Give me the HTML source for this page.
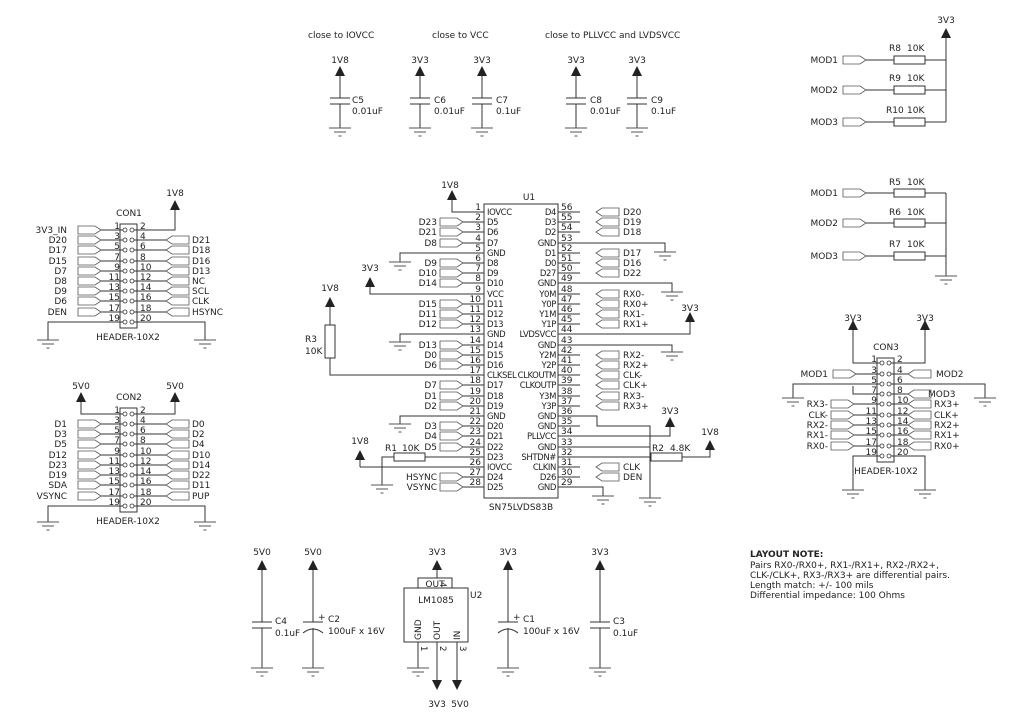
<!DOCTYPE html>
<html><head><meta charset="utf-8"><style>
html,body{margin:0;padding:0;background:#fff;}
svg{display:block;}
text{font-family:"DejaVu Sans","Liberation Sans",sans-serif;font-size:9px;fill:#222;}
.s{font-size:8.5px;}
.u text{font-size:8.5px;letter-spacing:-0.4px;}
.r{text-anchor:end;}
.m{text-anchor:middle;}
</style></head><body>
<svg width="1024" height="722" viewBox="0 0 1024 722" xmlns="http://www.w3.org/2000/svg">
<defs>
<g id="g"><path d="M-11 0H11M-6 4H6M-1.5 8H1.5" stroke="#555" stroke-width="1" fill="none"/></g>
<g id="a"><path d="M-5 10L0 0L5 10Z" fill="#222"/></g>
<g id="ad"><path d="M-5 -10L0 0L5 -10Z" fill="#222"/></g>
<g id="pr"><path d="M0 -4H17L23 0L17 4H0Z" fill="#fff" stroke="#555" stroke-width="0.8"/></g>
<g id="pl"><path d="M23 -4H6L0 0L6 4H23Z" fill="#fff" stroke="#555" stroke-width="0.8"/></g>
</defs>
<g stroke="#333" stroke-width="1" fill="none">
<path d="M340 76V98M330 98H350M330 104H350M340 104V128"/>
<path d="M420 76V98M410 98H430M410 104H430M420 104V128"/>
<path d="M482 76V98M472 98H492M472 104H492M482 104V128"/>
<path d="M576 76V98M566 98H586M566 104H586M576 104V128"/>
<path d="M637 76V98M627 98H647M627 104H647M637 104V128"/>
<path d="M866 60H894M925 60H946M866 90H894M925 90H946M866 122H894M925 122H946M946 38V122"/>
<rect x="894" y="56" width="31" height="8"/><rect x="894" y="86" width="31" height="8"/><rect x="894" y="118" width="31" height="8"/>
<path d="M866 193H894M925 193H946M866 223H894M925 223H946M866 256H894M925 256H946M946 193V276"/>
<rect x="894" y="189" width="31" height="8"/><rect x="894" y="219" width="31" height="8"/><rect x="894" y="252" width="31" height="8"/>
<rect x="484" y="204" width="74" height="294"/>
<path d="M462 212H484M462 222H484M462 232H484M462 243H484M462 253H484M462 263H484M462 273H484M462 283H484M462 294H484M462 304H484M462 314H484M462 324H484M462 334H484M462 345H484M462 355H484M462 365H484M462 375H484M462 385H484M462 396H484M462 406H484M462 416H484M462 426H484M462 436H484M462 447H484M462 457H484M462 467H484M462 477H484M462 487H484"/>
<path d="M558 212H580M558 222H580M558 232H580M558 243H580M558 253H580M558 263H580M558 273H580M558 283H580M558 294H580M558 304H580M558 314H580M558 324H580M558 334H580M558 345H580M558 355H580M558 365H580M558 375H580M558 385H580M558 396H580M558 406H580M558 416H580M558 426H580M558 436H580M558 447H580M558 457H580M558 467H580M558 477H580M558 487H580"/>
<path d="M452 197V212H462"/>
<path d="M462 253H400V262M462 334H400V342M462 416H400V424"/>
<path d="M462 294H370V286"/>
<path d="M330 307V325M330 358V375H462"/>
<rect x="325" y="325" width="10" height="33"/>
<path d="M580 243H665V252M580 283H672V292M580 345H672V352"/>
<path d="M580 334H690V322"/>
<path d="M580 416H597V426H650V498M580 436H670V426M580 447H650M580 457H651M682 457H710V450M580 487H603V496"/>
<rect x="651" y="453" width="31" height="8"/>
<path d="M462 457H425M394 457H382V485M360 467H462M360 467V460"/>
<rect x="394" y="453" width="31" height="8"/>
<rect x="120" y="224" width="17" height="104"/>
<path d="M100 230H127M100 240H127M100 250H127M100 261H127M100 271H127M100 281H127M100 291H127M100 301H127M100 312H127"/>
<path d="M130 230H175V210M130 240H168M130 250H168M130 261H168M130 271H168M130 281H168M130 291H168M130 301H168M130 312H168"/>
<path d="M127 322H48V340M130 322H205V340"/>
<rect x="120" y="408" width="17" height="104"/>
<path d="M127 414H81V402M130 414H175V402"/>
<path d="M100 424H127M100 434H127M100 444H127M100 455H127M100 465H127M100 475H127M100 485H127M100 496H127"/>
<path d="M130 424H168M130 434H168M130 444H168M130 455H168M130 465H168M130 475H168M130 485H168M130 496H168"/>
<path d="M127 506H48V522M130 506H205V522"/>
<rect x="877" y="358" width="17" height="104"/>
<path d="M884 363H853V330M888 363H925V330"/>
<path d="M853 374H884M888 374H910"/>
<path d="M884 384H793V398M888 384H985V398M884 394H853V386"/>
<path d="M888 394H910"/>
<path d="M853 404H884M853 415H884M853 425H884M853 435H884M853 446H884"/>
<path d="M888 404H910M888 415H910M888 425H910M888 435H910M888 446H910"/>
<path d="M884 456H853V490M888 456H925V490"/>
<path d="M262 570V622M252 622H272M252 628H272M262 628V668"/>
<path d="M313 570V622M303 622H323M303 633Q313 625 323 633M313 628V668"/>
<path d="M508 570V622M498 622H518M498 633Q508 625 518 633M508 628V668"/>
<path d="M600 570V622M590 622H610M590 628H610M600 628V668"/>
<rect x="404" y="588" width="64" height="54"/>
<rect x="418" y="578" width="34" height="10"/>
<path d="M437 570V578M418 642V668M437 642V680M457 642V680"/>
</g>
<use href="#a" x="340" y="66"/><use href="#a" x="420" y="66"/><use href="#a" x="482" y="66"/><use href="#a" x="576" y="66"/><use href="#a" x="637" y="66"/>
<use href="#a" x="946" y="28"/><use href="#a" x="452" y="190"/><use href="#a" x="370" y="277"/><use href="#a" x="330" y="297"/>
<use href="#a" x="690" y="312"/><use href="#a" x="670" y="417"/><use href="#a" x="710" y="440"/><use href="#a" x="360" y="450"/>
<use href="#a" x="175" y="200"/><use href="#a" x="81" y="392"/><use href="#a" x="175" y="392"/>
<use href="#a" x="853" y="320"/><use href="#a" x="925" y="320"/>
<use href="#a" x="262" y="560"/><use href="#a" x="313" y="560"/><use href="#a" x="437" y="560"/><use href="#a" x="508" y="560"/><use href="#a" x="600" y="560"/>
<use href="#ad" x="437" y="690"/><use href="#ad" x="457" y="690"/>
<use href="#g" x="340" y="128"/><use href="#g" x="420" y="128"/><use href="#g" x="482" y="128"/><use href="#g" x="576" y="128"/><use href="#g" x="637" y="128"/>
<use href="#g" x="946" y="276"/><use href="#g" x="400" y="262"/><use href="#g" x="400" y="342"/><use href="#g" x="400" y="424"/>
<use href="#g" x="665" y="252"/><use href="#g" x="672" y="292"/><use href="#g" x="672" y="352"/><use href="#g" x="650" y="498"/><use href="#g" x="603" y="496"/><use href="#g" x="382" y="485"/>
<use href="#g" x="48" y="340"/><use href="#g" x="205" y="340"/><use href="#g" x="48" y="522"/><use href="#g" x="205" y="522"/>
<use href="#g" x="793" y="398"/><use href="#g" x="985" y="398"/><use href="#g" x="853" y="490"/><use href="#g" x="925" y="490"/>
<use href="#g" x="262" y="668"/><use href="#g" x="313" y="668"/><use href="#g" x="418" y="668"/><use href="#g" x="508" y="668"/><use href="#g" x="600" y="668"/>
<use href="#pr" x="843" y="60"/><use href="#pr" x="843" y="90"/><use href="#pr" x="843" y="122"/>
<use href="#pr" x="843" y="193"/><use href="#pr" x="843" y="223"/><use href="#pr" x="843" y="256"/>
<g>
<use href="#pr" x="440" y="222"/><use href="#pr" x="440" y="232"/><use href="#pr" x="440" y="243"/>
<use href="#pr" x="440" y="263"/><use href="#pr" x="440" y="273"/><use href="#pr" x="440" y="283"/>
<use href="#pr" x="440" y="304"/><use href="#pr" x="440" y="314"/><use href="#pr" x="440" y="324"/>
<use href="#pr" x="440" y="345"/><use href="#pr" x="440" y="355"/><use href="#pr" x="440" y="365"/>
<use href="#pr" x="440" y="385"/><use href="#pr" x="440" y="396"/><use href="#pr" x="440" y="406"/>
<use href="#pr" x="440" y="426"/><use href="#pr" x="440" y="436"/><use href="#pr" x="440" y="447"/>
<use href="#pr" x="440" y="477"/><use href="#pr" x="440" y="487"/>
<use href="#pl" x="596" y="212"/><use href="#pl" x="596" y="222"/><use href="#pl" x="596" y="232"/>
<use href="#pl" x="596" y="253"/><use href="#pl" x="596" y="263"/><use href="#pl" x="596" y="273"/>
<use href="#pl" x="596" y="294"/><use href="#pl" x="596" y="304"/><use href="#pl" x="596" y="314"/><use href="#pl" x="596" y="324"/>
<use href="#pl" x="596" y="355"/><use href="#pl" x="596" y="365"/><use href="#pl" x="596" y="375"/><use href="#pl" x="596" y="385"/><use href="#pl" x="596" y="396"/><use href="#pl" x="596" y="406"/>
<use href="#pl" x="596" y="467"/><use href="#pl" x="596" y="477"/>
</g>
<g>
<use href="#pr" x="78" y="230"/><use href="#pr" x="78" y="240"/><use href="#pr" x="78" y="250"/><use href="#pr" x="78" y="261"/><use href="#pr" x="78" y="271"/><use href="#pr" x="78" y="281"/><use href="#pr" x="78" y="291"/><use href="#pr" x="78" y="301"/><use href="#pr" x="78" y="312"/>
<use href="#pl" x="166" y="240"/><use href="#pl" x="166" y="250"/><use href="#pl" x="166" y="261"/><use href="#pl" x="166" y="271"/><use href="#pl" x="166" y="281"/><use href="#pl" x="166" y="291"/><use href="#pl" x="166" y="301"/><use href="#pl" x="166" y="312"/>
<use href="#pr" x="78" y="424"/><use href="#pr" x="78" y="434"/><use href="#pr" x="78" y="444"/><use href="#pr" x="78" y="455"/><use href="#pr" x="78" y="465"/><use href="#pr" x="78" y="475"/><use href="#pr" x="78" y="485"/><use href="#pr" x="78" y="496"/>
<use href="#pl" x="166" y="424"/><use href="#pl" x="166" y="434"/><use href="#pl" x="166" y="444"/><use href="#pl" x="166" y="455"/><use href="#pl" x="166" y="465"/><use href="#pl" x="166" y="475"/><use href="#pl" x="166" y="485"/><use href="#pl" x="166" y="496"/>
<use href="#pr" x="833" y="374"/><use href="#pl" x="908" y="374"/><use href="#pl" x="908" y="394"/>
<use href="#pr" x="831" y="404"/><use href="#pr" x="831" y="415"/><use href="#pr" x="831" y="425"/><use href="#pr" x="831" y="435"/><use href="#pr" x="831" y="446"/>
<use href="#pl" x="908" y="404"/><use href="#pl" x="908" y="415"/><use href="#pl" x="908" y="425"/><use href="#pl" x="908" y="435"/><use href="#pl" x="908" y="446"/>
</g>
<g fill="#fff" stroke="#333" stroke-width="0.8">
<circle cx="125" cy="230" r="2"/><circle cx="132" cy="230" r="2"/><circle cx="125" cy="240" r="2"/><circle cx="132" cy="240" r="2"/><circle cx="125" cy="250" r="2"/><circle cx="132" cy="250" r="2"/><circle cx="125" cy="261" r="2"/><circle cx="132" cy="261" r="2"/><circle cx="125" cy="271" r="2"/><circle cx="132" cy="271" r="2"/><circle cx="125" cy="281" r="2"/><circle cx="132" cy="281" r="2"/><circle cx="125" cy="291" r="2"/><circle cx="132" cy="291" r="2"/><circle cx="125" cy="301" r="2"/><circle cx="132" cy="301" r="2"/><circle cx="125" cy="312" r="2"/><circle cx="132" cy="312" r="2"/><circle cx="125" cy="322" r="2"/><circle cx="132" cy="322" r="2"/>
<circle cx="125" cy="414" r="2"/><circle cx="132" cy="414" r="2"/><circle cx="125" cy="424" r="2"/><circle cx="132" cy="424" r="2"/><circle cx="125" cy="434" r="2"/><circle cx="132" cy="434" r="2"/><circle cx="125" cy="444" r="2"/><circle cx="132" cy="444" r="2"/><circle cx="125" cy="455" r="2"/><circle cx="132" cy="455" r="2"/><circle cx="125" cy="465" r="2"/><circle cx="132" cy="465" r="2"/><circle cx="125" cy="475" r="2"/><circle cx="132" cy="475" r="2"/><circle cx="125" cy="485" r="2"/><circle cx="132" cy="485" r="2"/><circle cx="125" cy="496" r="2"/><circle cx="132" cy="496" r="2"/><circle cx="125" cy="506" r="2"/><circle cx="132" cy="506" r="2"/>
<circle cx="882" cy="363" r="2"/><circle cx="889" cy="363" r="2"/><circle cx="882" cy="374" r="2"/><circle cx="889" cy="374" r="2"/><circle cx="882" cy="384" r="2"/><circle cx="889" cy="384" r="2"/><circle cx="882" cy="394" r="2"/><circle cx="889" cy="394" r="2"/><circle cx="882" cy="404" r="2"/><circle cx="889" cy="404" r="2"/><circle cx="882" cy="415" r="2"/><circle cx="889" cy="415" r="2"/><circle cx="882" cy="425" r="2"/><circle cx="889" cy="425" r="2"/><circle cx="882" cy="435" r="2"/><circle cx="889" cy="435" r="2"/><circle cx="882" cy="446" r="2"/><circle cx="889" cy="446" r="2"/><circle cx="882" cy="456" r="2"/><circle cx="889" cy="456" r="2"/>
</g>
<text x="308" y="38">close to IOVCC</text><text x="432" y="38">close to VCC</text><text x="545" y="38">close to PLLVCC and LVDSVCC</text>
<text class="m" x="340" y="63">1V8</text><text class="m" x="420" y="63">3V3</text><text class="m" x="482" y="63">3V3</text><text class="m" x="576" y="63">3V3</text><text class="m" x="637" y="63">3V3</text>
<text x="352" y="103">C5</text><text x="352" y="114">0.01uF</text>
<text x="434" y="103">C6</text><text x="434" y="114">0.01uF</text>
<text x="496" y="103">C7</text><text x="496" y="114">0.1uF</text>
<text x="590" y="103">C8</text><text x="590" y="114">0.01uF</text>
<text x="651" y="103">C9</text><text x="651" y="114">0.1uF</text>
<text class="m" x="946" y="23">3V3</text>
<text class="r" x="838" y="63">MOD1</text><text class="r" x="838" y="93">MOD2</text><text class="r" x="838" y="125">MOD3</text>
<text x="889" y="51">R8</text><text x="907" y="51">10K</text><text x="889" y="81">R9</text><text x="907" y="81">10K</text><text x="886" y="113">R10</text><text x="907" y="113">10K</text>
<text class="r" x="838" y="196">MOD1</text><text class="r" x="838" y="226">MOD2</text><text class="r" x="838" y="259">MOD3</text>
<text x="889" y="185">R5</text><text x="907" y="185">10K</text><text x="889" y="215">R6</text><text x="907" y="215">10K</text><text x="889" y="247">R7</text><text x="907" y="247">10K</text>
<text class="m" x="529" y="200">U1</text><text class="m" x="450" y="188">1V8</text>
<text class="m" x="521" y="510">SN75LVDS83B</text>
<g class="s">
<text class="r" x="481" y="210">1</text><text class="r" x="481" y="220">2</text><text class="r" x="481" y="230">3</text><text class="r" x="481" y="241">4</text><text class="r" x="481" y="251">5</text><text class="r" x="481" y="261">6</text><text class="r" x="481" y="271">7</text><text class="r" x="481" y="281">8</text><text class="r" x="481" y="292">9</text><text class="r" x="481" y="302">10</text><text class="r" x="481" y="312">11</text><text class="r" x="481" y="322">12</text><text class="r" x="481" y="332">13</text><text class="r" x="481" y="343">14</text><text class="r" x="481" y="353">15</text><text class="r" x="481" y="363">16</text><text class="r" x="481" y="373">17</text><text class="r" x="481" y="383">18</text><text class="r" x="481" y="394">19</text><text class="r" x="481" y="404">20</text><text class="r" x="481" y="414">21</text><text class="r" x="481" y="424">22</text><text class="r" x="481" y="434">23</text><text class="r" x="481" y="445">24</text><text class="r" x="481" y="455">25</text><text class="r" x="481" y="465">26</text><text class="r" x="481" y="475">27</text><text class="r" x="481" y="485">28</text>
<text x="561" y="210">56</text><text x="561" y="220">55</text><text x="561" y="230">54</text><text x="561" y="241">53</text><text x="561" y="251">52</text><text x="561" y="261">51</text><text x="561" y="271">50</text><text x="561" y="281">49</text><text x="561" y="292">48</text><text x="561" y="302">47</text><text x="561" y="312">46</text><text x="561" y="322">45</text><text x="561" y="332">44</text><text x="561" y="343">43</text><text x="561" y="353">42</text><text x="561" y="363">41</text><text x="561" y="373">40</text><text x="561" y="383">39</text><text x="561" y="394">38</text><text x="561" y="404">37</text><text x="561" y="414">36</text><text x="561" y="424">35</text><text x="561" y="434">34</text><text x="561" y="445">33</text><text x="561" y="455">32</text><text x="561" y="465">31</text><text x="561" y="475">30</text><text x="561" y="485">29</text>
</g>
<g class="u">
<text x="487" y="215">IOVCC</text><text x="487" y="225">D5</text><text x="487" y="235">D6</text><text x="487" y="246">D7</text><text x="487" y="256">GND</text><text x="487" y="266">D8</text><text x="487" y="276">D9</text><text x="487" y="286">D10</text><text x="487" y="297">VCC</text><text x="487" y="307">D11</text><text x="487" y="317">D12</text><text x="487" y="327">D13</text><text x="487" y="337">GND</text><text x="487" y="348">D14</text><text x="487" y="358">D15</text><text x="487" y="368">D16</text><text x="487" y="378">CLKSEL</text><text x="487" y="388">D17</text><text x="487" y="399">D18</text><text x="487" y="409">D19</text><text x="487" y="419">GND</text><text x="487" y="429">D20</text><text x="487" y="439">D21</text><text x="487" y="450">D22</text><text x="487" y="460">D23</text><text x="487" y="470">IOVCC</text><text x="487" y="480">D24</text><text x="487" y="490">D25</text>
<text class="r" x="556" y="215">D4</text><text class="r" x="556" y="225">D3</text><text class="r" x="556" y="235">D2</text><text class="r" x="556" y="246">GND</text><text class="r" x="556" y="256">D1</text><text class="r" x="556" y="266">D0</text><text class="r" x="556" y="276">D27</text><text class="r" x="556" y="286">GND</text><text class="r" x="556" y="297">Y0M</text><text class="r" x="556" y="307">Y0P</text><text class="r" x="556" y="317">Y1M</text><text class="r" x="556" y="327">Y1P</text><text class="r" x="556" y="337">LVDSVCC</text><text class="r" x="556" y="348">GND</text><text class="r" x="556" y="358">Y2M</text><text class="r" x="556" y="368">Y2P</text><text class="r" x="556" y="378">CLKOUTM</text><text class="r" x="556" y="388">CLKOUTP</text><text class="r" x="556" y="399">Y3M</text><text class="r" x="556" y="409">Y3P</text><text class="r" x="556" y="419">GND</text><text class="r" x="556" y="429">GND</text><text class="r" x="556" y="439">PLLVCC</text><text class="r" x="556" y="450">GND</text><text class="r" x="556" y="460">SHTDN#</text><text class="r" x="556" y="470">CLKIN</text><text class="r" x="556" y="480">D26</text><text class="r" x="556" y="490">GND</text>
</g>
<text class="r" x="437" y="225">D23</text><text class="r" x="437" y="235">D21</text><text class="r" x="437" y="246">D8</text><text class="r" x="437" y="266">D9</text><text class="r" x="437" y="276">D10</text><text class="r" x="437" y="286">D14</text><text class="r" x="437" y="307">D15</text><text class="r" x="437" y="317">D11</text><text class="r" x="437" y="327">D12</text><text class="r" x="437" y="348">D13</text><text class="r" x="437" y="358">D0</text><text class="r" x="437" y="368">D6</text><text class="r" x="437" y="388">D7</text><text class="r" x="437" y="399">D1</text><text class="r" x="437" y="409">D2</text><text class="r" x="437" y="429">D3</text><text class="r" x="437" y="439">D4</text><text class="r" x="437" y="450">D5</text><text class="r" x="437" y="480">HSYNC</text><text class="r" x="437" y="490">VSYNC</text>
<text x="623" y="215">D20</text><text x="623" y="225">D19</text><text x="623" y="235">D18</text><text x="623" y="256">D17</text><text x="623" y="266">D16</text><text x="623" y="276">D22</text><text x="623" y="297">RX0-</text><text x="623" y="307">RX0+</text><text x="623" y="317">RX1-</text><text x="623" y="327">RX1+</text><text x="623" y="358">RX2-</text><text x="623" y="368">RX2+</text><text x="623" y="378">CLK-</text><text x="623" y="388">CLK+</text><text x="623" y="399">RX3-</text><text x="623" y="409">RX3+</text><text x="623" y="470">CLK</text><text x="623" y="480">DEN</text>
<text class="m" x="370" y="271">3V3</text><text class="m" x="330" y="291">1V8</text><text x="305" y="342">R3</text><text x="305" y="354">10K</text>
<text class="m" x="690" y="311">3V3</text><text class="m" x="670" y="414">3V3</text><text class="m" x="710" y="435">1V8</text><text x="652" y="451">R2</text><text x="670" y="451">4.8K</text>
<text class="m" x="360" y="444">1V8</text><text x="385" y="451">R1</text><text x="402" y="451">10K</text>
<text class="m" x="129" y="216">CON1</text><text class="m" x="175" y="196">1V8</text><text class="m" x="128" y="340">HEADER-10X2</text>
<g class="s">
<text class="r" x="120" y="229">1</text><text class="r" x="120" y="239">3</text><text class="r" x="120" y="249">5</text><text class="r" x="120" y="260">7</text><text class="r" x="120" y="270">9</text><text class="r" x="120" y="280">11</text><text class="r" x="120" y="290">13</text><text class="r" x="120" y="300">15</text><text class="r" x="120" y="311">17</text><text class="r" x="120" y="321">19</text>
<text x="140" y="229">2</text><text x="140" y="239">4</text><text x="140" y="249">6</text><text x="140" y="260">8</text><text x="140" y="270">10</text><text x="140" y="280">12</text><text x="140" y="290">14</text><text x="140" y="300">16</text><text x="140" y="311">18</text><text x="140" y="321">20</text>
<text class="r" x="120" y="413">1</text><text class="r" x="120" y="423">3</text><text class="r" x="120" y="433">5</text><text class="r" x="120" y="443">7</text><text class="r" x="120" y="454">9</text><text class="r" x="120" y="464">11</text><text class="r" x="120" y="474">13</text><text class="r" x="120" y="484">15</text><text class="r" x="120" y="495">17</text><text class="r" x="120" y="505">19</text>
<text x="140" y="413">2</text><text x="140" y="423">4</text><text x="140" y="433">6</text><text x="140" y="443">8</text><text x="140" y="454">10</text><text x="140" y="464">12</text><text x="140" y="474">14</text><text x="140" y="484">16</text><text x="140" y="495">18</text><text x="140" y="505">20</text>
<text class="r" x="877" y="362">1</text><text class="r" x="877" y="373">3</text><text class="r" x="877" y="383">5</text><text class="r" x="877" y="393">7</text><text class="r" x="877" y="403">9</text><text class="r" x="877" y="414">11</text><text class="r" x="877" y="424">13</text><text class="r" x="877" y="434">15</text><text class="r" x="877" y="445">17</text><text class="r" x="877" y="455">19</text>
<text x="897" y="362">2</text><text x="897" y="373">4</text><text x="897" y="383">6</text><text x="897" y="393">8</text><text x="897" y="403">10</text><text x="897" y="414">12</text><text x="897" y="424">14</text><text x="897" y="434">16</text><text x="897" y="445">18</text><text x="897" y="455">20</text>
</g>
<text class="r" x="67" y="233">3V3_IN</text><text class="r" x="67" y="243">D20</text><text class="r" x="67" y="253">D17</text><text class="r" x="67" y="264">D15</text><text class="r" x="67" y="274">D7</text><text class="r" x="67" y="284">D8</text><text class="r" x="67" y="294">D9</text><text class="r" x="67" y="304">D6</text><text class="r" x="67" y="315">DEN</text>
<text x="192" y="243">D21</text><text x="192" y="253">D18</text><text x="192" y="264">D16</text><text x="192" y="274">D13</text><text x="192" y="284">NC</text><text x="192" y="294">SCL</text><text x="192" y="304">CLK</text><text x="192" y="315">HSYNC</text>
<text class="m" x="129" y="400">CON2</text><text class="m" x="81" y="389">5V0</text><text class="m" x="175" y="389">5V0</text><text class="m" x="128" y="524">HEADER-10X2</text>
<text class="r" x="67" y="427">D1</text><text class="r" x="67" y="437">D3</text><text class="r" x="67" y="447">D5</text><text class="r" x="67" y="458">D12</text><text class="r" x="67" y="468">D23</text><text class="r" x="67" y="478">D19</text><text class="r" x="67" y="488">SDA</text><text class="r" x="67" y="499">VSYNC</text>
<text x="192" y="427">D0</text><text x="192" y="437">D2</text><text x="192" y="447">D4</text><text x="192" y="458">D10</text><text x="192" y="468">D14</text><text x="192" y="478">D22</text><text x="192" y="488">D11</text><text x="192" y="499">PUP</text>
<text class="m" x="886" y="350">CON3</text><text class="m" x="853" y="321">3V3</text><text class="m" x="925" y="321">3V3</text><text class="m" x="886" y="474">HEADER-10X2</text>
<text class="r" x="828" y="377">MOD1</text><text x="936" y="377">MOD2</text><text x="928" y="397">MOD3</text>
<text class="r" x="828" y="407">RX3-</text><text class="r" x="828" y="418">CLK-</text><text class="r" x="828" y="428">RX2-</text><text class="r" x="828" y="438">RX1-</text><text class="r" x="828" y="449">RX0-</text>
<text x="934" y="407">RX3+</text><text x="934" y="418">CLK+</text><text x="934" y="428">RX2+</text><text x="934" y="438">RX1+</text><text x="934" y="449">RX0+</text>
<text class="m" x="262" y="555">5V0</text><text class="m" x="313" y="555">5V0</text><text class="m" x="437" y="555">3V3</text><text class="m" x="508" y="555">3V3</text><text class="m" x="600" y="555">3V3</text>
<text x="275" y="624">C4</text><text x="275" y="636">0.1uF</text>
<text x="318" y="620">+</text><text x="328" y="622">C2</text><text x="328" y="634">100uF x 16V</text>
<text x="513" y="620">+</text><text x="523" y="622">C1</text><text x="523" y="634">100uF x 16V</text>
<text x="613" y="624">C3</text><text x="613" y="636">0.1uF</text>
<text class="m" x="435" y="587">OUT</text><text x="470" y="598">U2</text><text class="m" x="436" y="603">LM1085</text>
<text x="0" y="0" transform="translate(421,640) rotate(-90)">GND</text>
<text x="0" y="0" transform="translate(440,640) rotate(-90)">OUT</text>
<text x="0" y="0" transform="translate(460,640) rotate(-90)">IN</text>
<text class="s" transform="translate(440,582) rotate(90)">4</text>
<text class="s" transform="translate(421,646) rotate(90)">1</text><text class="s" transform="translate(440,646) rotate(90)">2</text><text class="s" transform="translate(460,646) rotate(90)">3</text>
<text class="m" x="437" y="707">3V3</text><text class="m" x="460" y="707">5V0</text>
<text x="750" y="557" style="font-weight:bold">LAYOUT NOTE:</text>
<text x="750" y="568">Pairs RX0-/RX0+, RX1-/RX1+, RX2-/RX2+,</text>
<text x="750" y="578">CLK-/CLK+, RX3-/RX3+ are differential pairs.</text>
<text x="750" y="588">Length match: +/- 100 mils</text>
<text x="750" y="598">Differential impedance: 100 Ohms</text>
</svg>
</body></html>
